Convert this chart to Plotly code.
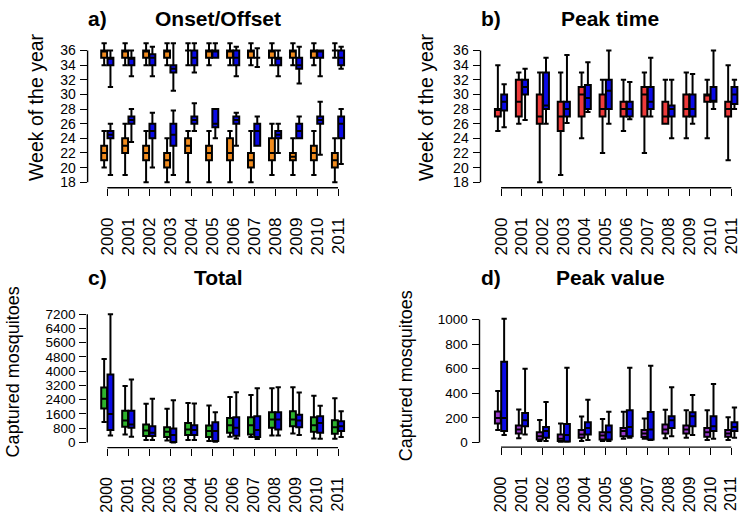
import plotly.graph_objects as go

years = [str(y) for y in range(2000, 2012)]

# Each entry per year: (lower whisker, Q1, median, Q3, upper whisker)
# a) Onset/Offset (week of the year)
onset_orange = [(20, 21, 22, 23, 25), (19, 22, 23, 24, 26), (18, 21, 22, 23, 25), (18, 20, 21, 22, 24),
                (18, 22, 23, 24, 25), (18, 21, 22, 23, 25), (18, 21, 22, 24, 25), (18, 20, 21, 22, 25),
                (19, 21, 22, 24, 26), (19, 21, 21.5, 22, 24), (19, 21, 22, 23, 25), (18, 20, 21, 22, 24)]
onset_blue = [(19, 24, 24.5, 25, 26), (23.5, 26, 26.5, 27, 28), (20, 24, 25, 26, 27.5), (19, 23, 24.5, 26, 27.8),
              (25, 26, 26.5, 27, 28.8), (24, 25.5, 26, 28, 28), (23, 26, 26.5, 27, 27.5), (23, 23, 25, 26, 27),
              (22, 24, 24.5, 25, 26), (24, 24, 25, 26, 27), (21.75, 26, 26.5, 27, 29), (20.5, 24, 26, 27, 28)]
offset_orange = [(34, 35, 36, 36, 37), (34, 35, 36, 36, 37), (34, 35, 36, 36, 37), (34, 35, 36, 36, 37),
                 (34, 36, 36, 36, 37), (34, 35, 36, 36, 37), (34, 35, 36, 36, 37), (34, 35, 36, 36, 37),
                 (34, 35, 36, 36, 37), (34, 35, 36, 36, 37), (34, 35, 36, 36, 37), (35, 36, 36, 36, 37)]
offset_blue = [(31, 34, 35, 35, 36), (32.5, 34, 35, 35, 36), (32.5, 34, 35, 35.5, 36.5), (30.5, 33, 33.5, 34, 37),
               (33, 34, 35, 36, 37), (35, 35, 36, 36, 37), (32.5, 34, 35, 36, 36.5), (33.75, 35, 35, 35, 36.3),
               (32.5, 34, 35, 35, 36), (31.5, 33.5, 34, 35, 36.5), (32.5, 35, 36, 36, 36), (33.5, 34, 35, 36, 36.5)]

# b) Peak time (week of the year)
peaktime_red = [(25, 27, 28, 28, 34), (26, 27, 29, 32, 33), (18, 26, 27, 30, 33), (19, 25, 27, 29, 33),
                (24, 27, 30, 31, 33), (22, 27, 28, 30, 32), (25, 27, 28, 29, 32), (22, 27, 30, 31, 33),
                (26, 26, 27, 29, 32), (24, 27, 28, 30, 33), (24, 29, 30, 30, 32), (21, 27, 28, 29, 34)]
peaktime_blue = [(25.5, 27.8, 29, 30, 31.4), (26.5, 30, 31, 32, 33.5), (26, 28, 28.5, 33, 35), (26.1, 27, 28, 29, 35.4),
                 (27.6, 28, 29.5, 31.3, 34.4), (26, 28, 30.5, 32, 36), (26.6, 27, 28, 29, 31.7), (27, 28, 29, 31, 35),
                 (24, 27, 28, 28.5, 32), (26, 27, 28, 30, 32.8), (28, 29, 29, 31, 36), (28, 28.7, 30, 31, 32)]

# c) Total (captured mosquitoes)
total_green = [(1150, 1900, 2450, 3080, 4680), (445, 875, 1224, 1780, 3170), (130, 356, 670, 1000, 2170),
               (110, 300, 600, 855, 1890), (130, 410, 723, 1096, 2210), (80, 300, 634, 950, 2080),
               (320, 540, 965, 1374, 2545), (300, 445, 965, 1411, 2670), (390, 818, 1280, 1690, 3044),
               (500, 912, 1280, 1745, 3100), (225, 600, 965, 1411, 2620), (205, 480, 855, 1243, 2485)]
total_blue = [(390, 690, 1600, 3820, 7200), (320, 818, 1000, 1780, 3540), (130, 356, 540, 912, 2450),
              (0, 20, 410, 780, 2370), (130, 410, 690, 965, 2190), (40, 78, 634, 1130, 1690),
              (225, 375, 818, 1411, 2820), (190, 300, 690, 1469, 3040), (390, 723, 1280, 1690, 3100),
              (410, 855, 1224, 1560, 2800), (205, 540, 1096, 1469, 2060), (300, 634, 912, 1187, 1745)]

# d) Peak value (captured mosquitoes)
peakval_purple = [(100, 154, 199, 251, 419), (33, 73, 105, 137, 268), (11, 24, 51, 83, 183), (5, 11, 30, 65, 154),
                  (11, 38, 65, 100, 210), (11, 24, 56, 83, 191), (30, 51, 92, 118, 250), (30, 43, 73, 100, 195),
                  (33, 73, 105, 145, 265), (38, 73, 105, 137, 262), (19, 46, 83, 118, 262), (19, 46, 73, 100, 205)]
peakval_blue = [(60, 92, 199, 656, 1006), (65, 132, 180, 240, 600), (11, 38, 92, 126, 328), (5, 8, 60, 150, 608),
                (19, 65, 118, 164, 348), (11, 24, 83, 137, 250), (38, 51, 126, 262, 608), (20, 24, 105, 248, 624),
                (51, 118, 180, 213, 449), (60, 132, 213, 245, 385), (30, 92, 132, 213, 476), (38, 92, 126, 164, 285)]

week_ticks = list(range(18, 37, 2))
total_ticks = list(range(0, 7201, 800))
peak_ticks = list(range(0, 1001, 200))

# ---------------------------------------------------------------- styling
W, H = 744, 517
FONT = "Liberation Sans, Arial, Helvetica, sans-serif"
ORANGE, BLUE, RED, GREEN, PURPLE = "#F28C1E", "#0A0AE6", "#EE3B3B", "#2DB32D", "#9A3ACD"

pos = list(range(1, len(years) + 1))
OFF, BW = 0.15, 0.28

# panel geometry in pixels: x domain, first/last tick px, y domain, two reference values with their px
panels = {
    "a": dict(xd=(87.6, 357.7), xt=(107.3, 338.0), yd=(36.0, 187.6), yv=((18, 182.0), (36, 49.0)),
              ticks=week_ticks, ytf=14, xtf=17),
    "b": dict(xd=(480.5, 744.0), xt=(501.0, 731.3), yd=(36.0, 187.6), yv=((18, 182.0), (36, 49.0)),
              ticks=week_ticks, ytf=14, xtf=17),
    "c": dict(xd=(87.3, 357.7), xt=(107.3, 338.0), yd=(310.0, 450.0), yv=((0, 444.7), (7200, 315.3)),
              ticks=total_ticks, ytf=13.5, xtf=16),
    "d": dict(xd=(479.5, 744.0), xt=(501.0, 731.3), yd=(315.0, 449.5), yv=((0, 444.7), (1000, 320.7)),
              ticks=peak_ticks, ytf=13.5, xtf=16),
}

fig = go.Figure()
layout = dict(width=W, height=H, margin=dict(l=0, r=0, t=0, b=0), showlegend=False,
              paper_bgcolor="white", plot_bgcolor="white", font=dict(family=FONT, color="black"),
              boxmode="overlay")
shapes, annotations = [], []

series = {
    "a": [(onset_orange, ORANGE, -OFF), (onset_blue, BLUE, OFF), (offset_orange, ORANGE, -OFF), (offset_blue, BLUE, OFF)],
    "b": [(peaktime_red, RED, -OFF), (peaktime_blue, BLUE, OFF)],
    "c": [(total_green, GREEN, -OFF), (total_blue, BLUE, OFF)],
    "d": [(peakval_purple, PURPLE, -OFF), (peakval_blue, BLUE, OFF)],
}

for i, key in enumerate(["a", "b", "c", "d"]):
    p = panels[key]
    n = "" if i == 0 else str(i + 1)
    xa, ya = "x" + n, "y" + n
    ppu = (p["xt"][1] - p["xt"][0]) / (len(pos) - 1)
    xr = [pos[0] + (p["xd"][0] - p["xt"][0]) / ppu, pos[0] + (p["xd"][1] - p["xt"][0]) / ppu]
    (v0, py0), (v1, py1) = p["yv"]
    ppv = (py0 - py1) / (v1 - v0)
    yr = [v0 - (p["yd"][1] - py0) / ppv, v0 + (py0 - p["yd"][0]) / ppv]

    layout["xaxis" + n] = dict(domain=[p["xd"][0] / W, p["xd"][1] / W], range=xr, anchor=ya,
                               tickmode="array", tickvals=pos, ticktext=years, tickangle=-90,
                               ticks="outside", ticklen=7, tickwidth=1.4, tickcolor="black",
                               showline=False, showgrid=False, zeroline=False, ticklabelstandoff=15,
                               tickfont=dict(size=p["xtf"], family=FONT, color="black"))
    layout["yaxis" + n] = dict(domain=[1 - p["yd"][1] / H, 1 - p["yd"][0] / H], range=yr, anchor=xa,
                               tickmode="array", tickvals=p["ticks"],
                               ticks="outside", ticklen=7, tickwidth=1.4, tickcolor="black",
                               showline=False, showgrid=False, zeroline=False, ticklabelstandoff=1,
                               tickfont=dict(size=p["ytf"], family=FONT, color="black"))
    shapes.append(dict(type="line", xref=xa, yref=ya + " domain", x0=pos[0], x1=pos[-1], y0=0, y1=0,
                       line=dict(color="black", width=1.4)))
    shapes.append(dict(type="line", xref=xa + " domain", yref=ya, x0=0, x1=0,
                       y0=p["ticks"][0], y1=p["ticks"][-1], line=dict(color="black", width=1.4)))

    for data, col, off in series[key]:
        lo, q1, med, q3, hi = (list(c) for c in zip(*data))
        fig.add_trace(go.Box(x=[v + off for v in pos], lowerfence=lo, q1=q1, median=med, q3=q3,
                             upperfence=hi, width=BW, fillcolor=col, boxpoints=False,
                             line=dict(color="black", width=2), whiskerwidth=0.9,
                             xaxis=xa, yaxis=ya, hoverinfo="skip"))


def ann(text, px, py, size, bold=False, angle=0):
    annotations.append(dict(text=f"<b>{text}</b>" if bold else text, x=px / W, y=1 - py / H,
                            xref="paper", yref="paper", showarrow=False, textangle=angle,
                            xanchor="center", yanchor="middle",
                            font=dict(size=size, family=FONT, color="black")))


ann("a)", 97, 17, 21, bold=True)
ann("Onset/Offset", 218, 17, 21, bold=True)
ann("b)", 491, 17, 21, bold=True)
ann("Peak time", 610, 17, 21, bold=True)
ann("c)", 97, 278, 21, bold=True)
ann("Total", 218, 278, 21, bold=True)
ann("d)", 491, 278, 21, bold=True)
ann("Peak value", 610, 278, 21, bold=True)
ann("Week of the year", 36, 106, 19.5, angle=-90)
ann("Week of the year", 426, 106, 19.5, angle=-90)
ann("Captured mosquitoes", 13, 374, 18, angle=-90)
ann("Captured mosquitoes", 406, 377, 18, angle=-90)

layout["shapes"] = shapes
layout["annotations"] = annotations
fig.update_layout(**layout)
fig.write_html("out.html", config={"displayModeBar": False},
               post_script="document.body.style.margin='0';document.body.style.overflow='hidden';")
